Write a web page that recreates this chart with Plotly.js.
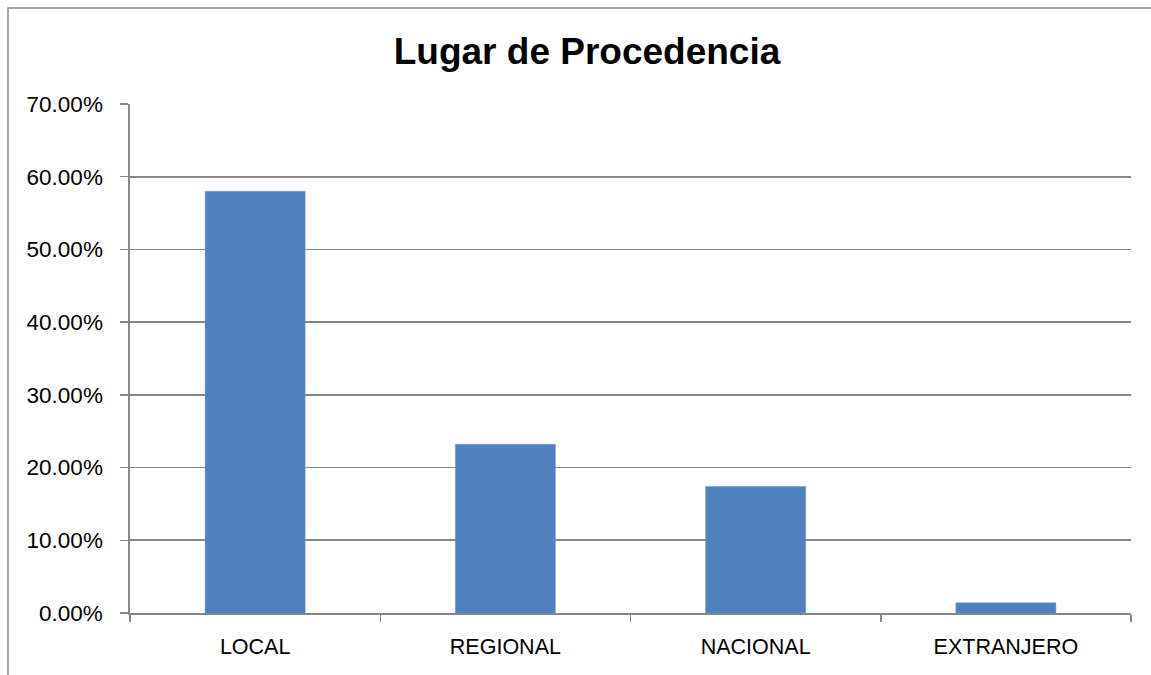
<!DOCTYPE html>
<html>
<head>
<meta charset="utf-8">
<script src="https://cdn.plot.ly/plotly-3.0.1.min.js"></script>
<style>
  html, body { margin: 0; padding: 0; background: #ffffff; }
  #chart { width: 1151px; height: 675px; }
</style>
</head>
<body>
<div id="chart"></div>
<script>
const chartTitle = "Lugar de Procedencia";
const categories = ["LOCAL", "REGIONAL", "NACIONAL", "EXTRANJERO"];
const percentValues = [58.0, 23.2, 17.4, 1.4];
const yTickValues = [0, 10, 20, 30, 40, 50, 60, 70];
const yTickLabels = ["0.00%", "10.00%", "20.00%", "30.00%", "40.00%", "50.00%", "60.00%", "70.00%"];

const gray = "#868686";
const labelFont = { family: "Liberation Sans, Arial, sans-serif", size: 22.5, color: "#000000" };

const data = [{
  type: "bar",
  x: categories,
  y: percentValues,
  marker: { color: "#4F81BD", line: { color: "#6f9ad0", width: 0.5 } },
  hoverinfo: "x+y"
}];

const layout = {
  width: 1151,
  height: 675,
  margin: { l: 130, r: 20, t: 104, b: 62 },
  paper_bgcolor: "#ffffff",
  plot_bgcolor: "#ffffff",
  showlegend: false,
  bargap: 0.6,
  title: {
    text: "<b>" + chartTitle + "</b>",
    font: { family: "Liberation Sans, Arial, sans-serif", size: 37, color: "#000000" },
    x: 0.51, xref: "container", xanchor: "center",
    y: 0.924, yref: "container", yanchor: "middle"
  },
  xaxis: {
    type: "category",
    tickfont: { family: "Liberation Sans, Arial, sans-serif", size: 21.5, color: "#000000" },
    showgrid: false,
    showline: true,
    linecolor: gray,
    linewidth: 1.5,
    ticks: "outside",
    tickson: "boundaries",
    ticklen: 7,
    tickcolor: gray,
    tickwidth: 1.5,
    ticklabelstandoff: 14,
    zeroline: false
  },
  yaxis: {
    range: [0, 70],
    tickmode: "array",
    tickvals: yTickValues,
    ticktext: yTickLabels,
    tickfont: labelFont,
    showgrid: true,
    gridcolor: gray,
    gridwidth: 1.6,
    showline: true,
    linecolor: gray,
    linewidth: 1.6,
    ticks: "outside",
    ticklen: 8,
    tickcolor: gray,
    tickwidth: 1.5,
    ticklabelstandoff: 13,
    zeroline: false,
    fixedrange: true
  },
  shapes: [{
    type: "rect",
    xref: "paper", yref: "paper",
    x0: -0.1219, x1: 1.2,
    y0: -0.5, y1: 1.1886,
    line: { color: "#878787", width: 1.5 },
    fillcolor: "rgba(0,0,0,0)",
    layer: "below"
  }]
};

Plotly.newPlot("chart", data, layout, { displayModeBar: false, staticPlot: true });
</script>
</body>
</html>
